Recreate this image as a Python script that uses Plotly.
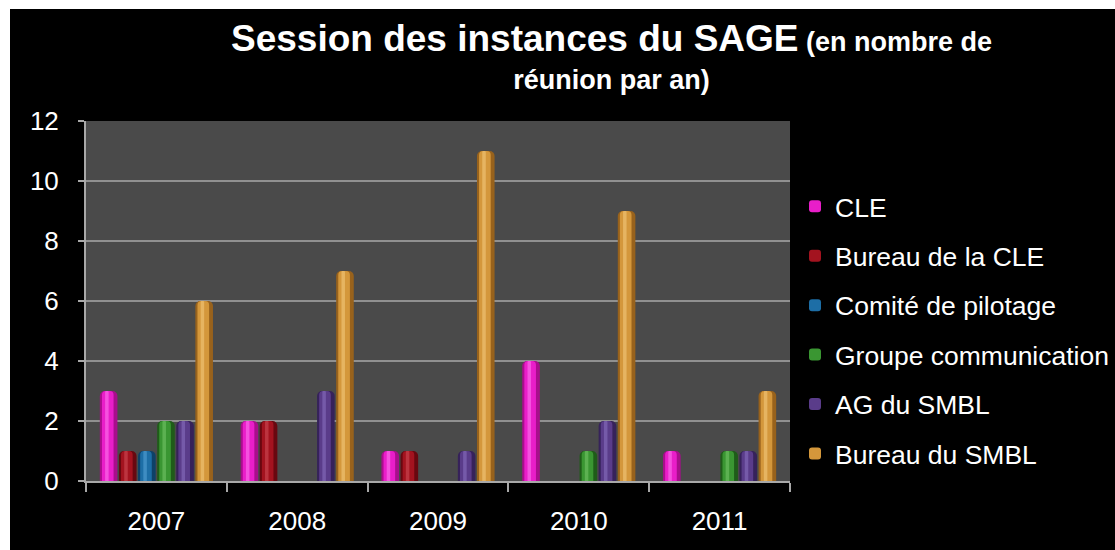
import plotly.graph_objects as go

# Meetings per year for each body of the SAGE
years = ["2007", "2008", "2009", "2010", "2011"]
series_names = [
    "CLE",
    "Bureau de la CLE",
    "Comité de pilotage",
    "Groupe communication",
    "AG du SMBL",
    "Bureau du SMBL",
]
cle = [3, 2, 1, 4, 1]
bureau_cle = [1, 2, 1, 0, 0]
comite_pilotage = [1, 0, 0, 0, 0]
groupe_communication = [2, 0, 0, 1, 1]
ag_smbl = [2, 3, 1, 2, 1]
bureau_smbl = [6, 7, 11, 9, 3]
y_ticks = [0, 2, 4, 6, 8, 10, 12]

series_values = [cle, bureau_cle, comite_pilotage, groupe_communication, ag_smbl, bureau_smbl]

# (edge shade, body colour, highlight) per series for a cylinder look
shades = [
    ("#a80e8c", "#e91ec9", "#ff7cf0"),
    ("#680810", "#a3131f", "#d2505a"),
    ("#0e4168", "#1d6ea6", "#5aa6d8"),
    ("#1f5c19", "#3a9632", "#78c86c"),
    ("#36225a", "#5a3c8a", "#8d72c2"),
    ("#98621c", "#d4973b", "#f4cc82"),
]

W, H = 1115, 550
L, R, T, B = 86, 325, 121, 69
PW, PH = W - L - R, H - T - B

slot = 19 / 140
bar_w = 17.5 / 140

fig = go.Figure()
for i, (name, vals, (edge, body, hl)) in enumerate(zip(series_names, series_values, shades)):
    off = -3 * slot + i * slot + (slot - bar_w) / 2
    fig.add_trace(go.Bar(
        x=years, y=vals, width=bar_w, offset=off, name=name, legendgroup=name,
        showlegend=False, hoverinfo="skip",
        marker=dict(color=edge, opacity=1, line_width=0, cornerradius=5),
    ))
    fig.add_trace(go.Bar(
        x=years, y=vals, width=bar_w * 0.66, offset=off + bar_w * 0.12, name=name,
        legendgroup=name, showlegend=True,
        marker=dict(color=body, opacity=1, line_width=0, cornerradius=4),
    ))
    fig.add_trace(go.Bar(
        x=years, y=vals, width=bar_w * 0.2, offset=off + bar_w * 0.3, name=name,
        legendgroup=name, showlegend=False, hoverinfo="skip",
        marker=dict(color=hl, opacity=0.55, line_width=0, cornerradius=2),
    ))

def px_x(px):
    return (px - L) / PW

def px_y(py):
    return (H - B - py) / PH

# thin white frame along the top and left edges
shapes = [
    dict(type="rect", xref="paper", yref="paper", x0=px_x(0), x1=px_x(W), y0=px_y(9), y1=px_y(0),
         fillcolor="white", line_width=0, layer="above"),
    dict(type="rect", xref="paper", yref="paper", x0=px_x(0), x1=px_x(10), y0=px_y(H), y1=px_y(0),
         fillcolor="white", line_width=0, layer="above"),
]

annotations = [
    dict(
        text="<b><span style='font-size:37px'>Session des instances du SAGE</span>"
             "<span style='font-size:27px'> (en nombre de</span></b>"
             "<br><b><span style='font-size:27px'>réunion par an)</span></b>",
        xref="paper", yref="paper", x=px_x(611), y=px_y(16),
        xanchor="center", yanchor="top", showarrow=False, align="center",
        font=dict(family="Liberation Sans, Arial, sans-serif", size=29, color="white"),
    )
]

fig.update_layout(
    width=W, height=H,
    margin=dict(l=L, r=R, t=T, b=B, autoexpand=False),
    paper_bgcolor="black",
    plot_bgcolor="#4a4a4a",
    barmode="overlay",
    shapes=shapes,
    annotations=annotations,
    font=dict(family="Liberation Sans, Arial, sans-serif", color="white", size=26),
    legend=dict(
        xref="container", yref="container",
        x=795 / W, xanchor="left", y=1 - 330 / H, yanchor="middle",
        font=dict(size=26.5, color="white"),
        traceorder="grouped", tracegroupgap=12, maxheight=420,
        bgcolor="rgba(0,0,0,0)",
    ),
    xaxis=dict(
        type="category", range=[-0.5, 4.5],
        showline=True, linecolor="#a8a8a8", linewidth=2,
        ticks="outside", tickson="boundaries", ticklen=9, tickwidth=2, tickcolor="#a8a8a8",
        showgrid=False, ticklabelstandoff=16,
        tickfont=dict(size=26, color="white"),
    ),
    yaxis=dict(
        range=[0, 12], tickvals=y_ticks,
        showline=True, linecolor="#a8a8a8", linewidth=2,
        ticks="outside", ticklen=6, tickwidth=2, tickcolor="#a8a8a8",
        showgrid=True, gridcolor="#909090", gridwidth=2,
        zeroline=False, ticklabelstandoff=14,
        tickfont=dict(size=26, color="white"),
    ),
)

fig.write_html("out.html")
